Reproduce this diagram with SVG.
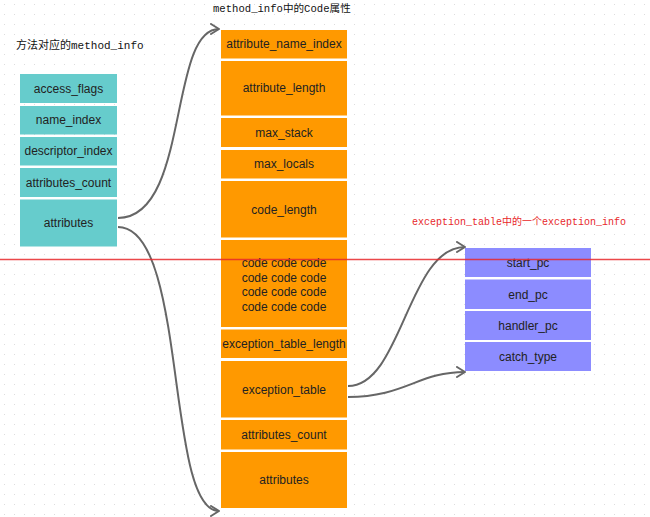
<svg xmlns="http://www.w3.org/2000/svg" width="650" height="517" viewBox="0 0 650 517">
<defs>
<pattern id="dots" width="10" height="10" patternUnits="userSpaceOnUse">
<rect x="4" y="4" width="1" height="1" fill="#dcdcdc"/>
</pattern>
<marker id="arr" viewBox="0 0 12 12" refX="10" refY="6" markerWidth="12" markerHeight="12" markerUnits="userSpaceOnUse" orient="auto">
<path d="M2,1 L10,6 L2,11" fill="none" stroke="#666" stroke-width="2" stroke-linecap="round" stroke-linejoin="round"/>
</marker>
<style>
.t{font-family:"Liberation Sans",Arial,sans-serif;font-size:12px;fill:#222;text-anchor:middle;dominant-baseline:central}
.cap{font-family:"Liberation Mono","Noto Sans CJK SC",monospace;fill:#111}
.teal{fill:#66cccc}
.org{fill:#ff9900}
.blu{fill:#8c8cff}
.c{fill:none;stroke:#666;stroke-width:2;marker-end:url(#arr)}
</style>
</defs>
<rect width="650" height="517" fill="#fff"/>
<rect width="650" height="517" fill="url(#dots)"/>

<text class="cap" x="213" y="12" font-size="10.6">method_info中的Code属性</text>
<text class="cap" x="16" y="49" font-size="11">方法对应的method_info</text>
<text class="cap" x="412" y="225" font-size="10" style="fill:#e8282a">exception_table中的一个exception_info</text>

<g id="method_info">
<g id="m_access_flags"><rect class="teal" x="20" y="74" width="97" height="29"/><text class="t" x="68.5" y="88.5">access_flags</text></g>
<g id="m_name_index"><rect class="teal" x="20" y="106" width="97" height="28.5"/><text class="t" x="68.5" y="120">name_index</text></g>
<g id="m_descriptor_index"><rect class="teal" x="20" y="137" width="97" height="28.5"/><text class="t" x="68.5" y="151">descriptor_index</text></g>
<g id="m_attributes_count"><rect class="teal" x="20" y="168" width="97" height="29"/><text class="t" x="68.5" y="182.5">attributes_count</text></g>
<g id="m_attributes"><rect class="teal" x="20" y="199.5" width="97" height="47"/><text class="t" x="68.5" y="223">attributes</text></g>
</g>

<g id="code_attribute">
<g id="c_attribute_name_index"><rect class="org" x="221" y="30" width="126" height="28.5"/><text class="t" x="284" y="44">attribute_name_index</text></g>
<g id="c_attribute_length"><rect class="org" x="221" y="61" width="126" height="54.5"/><text class="t" x="284" y="88">attribute_length</text></g>
<g id="c_max_stack"><rect class="org" x="221" y="118" width="126" height="29"/><text class="t" x="284" y="132.5">max_stack</text></g>
<g id="c_max_locals"><rect class="org" x="221" y="150" width="126" height="28.5"/><text class="t" x="284" y="164">max_locals</text></g>
<g id="c_code_length"><rect class="org" x="221" y="181" width="126" height="56.5"/><text class="t" x="284" y="209.5">code_length</text></g>
<g id="c_code"><rect class="org" x="221" y="240" width="126" height="87"/>
<text class="t" x="284" y="263">code code code</text>
<text class="t" x="284" y="277.5">code code code</text>
<text class="t" x="284" y="292">code code code</text>
<text class="t" x="284" y="306.5">code code code</text></g>
<g id="c_exception_table_length"><rect class="org" x="221" y="329.5" width="126" height="28.5"/><text class="t" x="284" y="344">exception_table_length</text></g>
<g id="c_exception_table"><rect class="org" x="221" y="361" width="126" height="56.5"/><text class="t" x="284" y="389.5">exception_table</text></g>
<g id="c_attributes_count"><rect class="org" x="221" y="420" width="126" height="29.5"/><text class="t" x="284" y="435">attributes_count</text></g>
<g id="c_attributes"><rect class="org" x="221" y="452" width="126" height="56"/><text class="t" x="284" y="480">attributes</text></g>
</g>

<g id="exception_info">
<g id="e_start_pc"><rect class="blu" x="465" y="248" width="126" height="29"/><text class="t" x="528" y="263">start_pc</text></g>
<g id="e_end_pc"><rect class="blu" x="465" y="279.5" width="126" height="29.5"/><text class="t" x="528" y="294.5">end_pc</text></g>
<g id="e_handler_pc"><rect class="blu" x="465" y="311" width="126" height="29"/><text class="t" x="528" y="326">handler_pc</text></g>
<g id="e_catch_type"><rect class="blu" x="465" y="342" width="126" height="29"/><text class="t" x="528" y="357">catch_type</text></g>
</g>

<g id="connectors">
<path class="c" d="M118,218 C190,218 168,29 219,29"/>
<path class="c" d="M118,227 C188,227 165,511 219,511"/>
<path class="c" d="M348,386 C402,386 408,247 465,247"/>
<path class="c" d="M348,397 C405,397 418,372 465,372"/>
</g>

<line x1="0" y1="259.5" x2="650" y2="259.5" stroke="#e8282a" stroke-width="1.5" stroke-opacity="0.85"/>
</svg>
